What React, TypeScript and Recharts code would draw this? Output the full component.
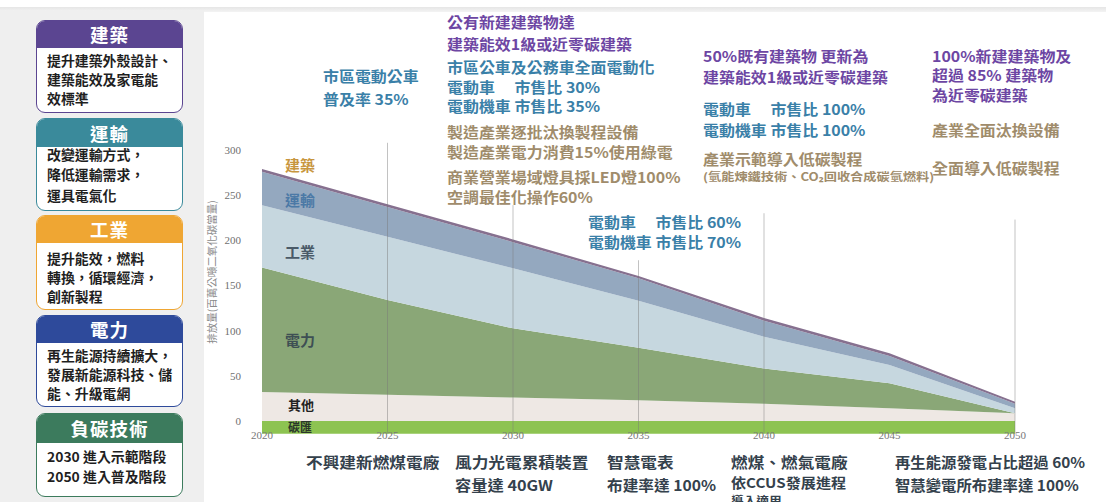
import React from 'react';
import { AreaChart, Area, XAxis, YAxis, ReferenceLine } from 'recharts';

// ---------- data ----------
const years = [2020, 2025, 2030, 2035, 2040, 2045, 2050];
const sinkValues = [-14, -14, -14, -14, -14, -14, -14];
const otherValues = [32, 29, 26, 23, 19, 14, 8.5];
const powerValues = [138, 105, 76.6, 58, 39, 27.7, 0];
const industryValues = [69, 70, 66.4, 52, 35.3, 20.3, 5.5];
const transportValues = [37, 33, 29, 25, 17.7, 10, 5];
const buildingValues = [3, 3, 3, 2.5, 3, 3, 2.4];
const yTicks = [0, 50, 100, 150, 200, 250, 300];
const gridYears = [2025, 2030, 2035, 2040, 2050];
const gridTops = [308, 239, 178, 230, 223];

const data = years.map((year, i) => ({
  year,
  碳匯: sinkValues[i],
  其他: otherValues[i],
  電力: powerValues[i],
  工業: industryValues[i],
  運輸: transportValues[i],
  建築: buildingValues[i],
}));

// ---------- text content ----------
const boxes = [
  { title: '建築', color: '#5b4591', top: 20, headerH: 27, bottom: 113, lines: ['提升建築外殼設計、', '建築能效及家電能', '效標準'], lineY: [62, 81, 100] },
  { title: '運輸', color: '#3a8a9b', top: 118, headerH: 28, bottom: 211, lines: ['改變運輸方式，', '降低運輸需求，', '運具電氣化'], lineY: [156, 176, 197] },
  { title: '工業', color: '#efa633', top: 215, headerH: 27, bottom: 310, lines: ['提升能效，燃料', '轉換，循環經濟，', '創新製程'], lineY: [260, 279, 298] },
  { title: '電力', color: '#2e4a9b', top: 315, headerH: 27, bottom: 407, lines: ['再生能源持續擴大，', '發展新能源科技、儲', '能、升級電網'], lineY: [357, 376, 395] },
  { title: '負碳技術', color: '#3c7b5d', top: 413, headerH: 29, bottom: 497, lines: ['2030 進入示範階段', '2050 進入普及階段'], lineY: [458, 478] },
];

const PURPLE = '#6d46a3';
const TEAL = '#3a80a8';
const TAN = '#a08c6b';
const DARK = '#34414c';

const topNotes = [
  { x: 323, y: 77, t: '市區電動公車', c: TEAL },
  { x: 323, y: 100, t: '普及率 35%', c: TEAL },
  { x: 447, y: 23, t: '公有新建建築物達', c: PURPLE },
  { x: 447, y: 45, t: '建築能效1級或近零碳建築', c: PURPLE },
  { x: 447, y: 68, t: '市區公車及公務車全面電動化', c: TEAL },
  { x: 447, y: 88, t: '電動車　 市售比 30%', c: TEAL },
  { x: 447, y: 107, t: '電動機車 市售比 35%', c: TEAL },
  { x: 447, y: 133, t: '製造產業逐批汰換製程設備', c: TAN },
  { x: 447, y: 153, t: '製造產業電力消費15%使用綠電', c: TAN },
  { x: 447, y: 178, t: '商業營業場域燈具採LED燈100%', c: TAN },
  { x: 447, y: 198, t: '空調最佳化操作60%', c: TAN },
  { x: 703, y: 57, t: '50%既有建築物 更新為', c: PURPLE },
  { x: 703, y: 78, t: '建築能效1級或近零碳建築', c: PURPLE },
  { x: 703, y: 110, t: '電動車　 市售比 100%', c: TEAL },
  { x: 703, y: 131, t: '電動機車 市售比 100%', c: TEAL },
  { x: 703, y: 160, t: '產業示範導入低碳製程', c: TAN },
  { x: 932, y: 57, t: '100%新建建築物及', c: PURPLE },
  { x: 932, y: 76, t: '超過 85% 建築物', c: PURPLE },
  { x: 932, y: 96, t: '為近零碳建築', c: PURPLE },
  { x: 932, y: 131, t: '產業全面汰換設備', c: TAN },
  { x: 932, y: 169, t: '全面導入低碳製程', c: TAN },
  { x: 588, y: 223, t: '電動車　 市售比 60%', c: TEAL },
  { x: 588, y: 243, t: '電動機車 市售比 70%', c: TEAL },
];

const bottomNotes = [
  { x: 306, y: 463, t: '不興建新燃煤電廠', sx: 1.15, s: 14.5 },
  { x: 455, y: 463, t: '風力光電累積裝置', sx: 1.15, s: 14.5 },
  { x: 455, y: 486, t: '容量達 40GW', sx: 1.12, s: 14.5 },
  { x: 607, y: 463, t: '智慧電表', sx: 1.15, s: 14.5 },
  { x: 607, y: 486, t: '布建率達 100%', sx: 1.08, s: 14.5 },
  { x: 731, y: 463, t: '燃煤、燃氣電廠', sx: 1.15, s: 14.5 },
  { x: 731, y: 484, t: '依CCUS發展進程', sx: 1.12, s: 13.5 },
  { x: 731, y: 501, t: '導入適用', sx: 1.15, s: 11 },
  { x: 895, y: 463, t: '再生能源發電占比超過 60%', sx: 1.06, s: 14.5 },
  { x: 895, y: 486, t: '智慧變電所布建率達 100%', sx: 1.06, s: 14.5 },
];

const layerLabels = [
  { x: 285, y: 165, t: '建築', c: '#c8963e', s: 15, w: 700 },
  { x: 285, y: 200, t: '運輸', c: '#4b79a6', s: 15, w: 700 },
  { x: 285, y: 252, t: '工業', c: '#4a5a68', s: 15, w: 700 },
  { x: 285, y: 340, t: '電力', c: '#3e4f54', s: 15, w: 700 },
  { x: 288, y: 405, t: '其他', c: '#222222', s: 13, w: 700 },
  { x: 288, y: 428, t: '碳匯', c: '#2a362a', s: 12, w: 700 },
];

const FONT = "'Noto Sans CJK TC', 'Noto Sans', sans-serif";
const SERIF = "'Liberation Serif', 'DejaVu Serif', serif";

function Txt({ x, y, t, c, s, w = 700, sx = 1 }: { x: number; y: number; t: string; c: string; s: number; w?: number; sx?: number }) {
  return (
    <div
      style={{
        position: 'absolute',
        left: x,
        top: y - 0.556 * s,
        fontSize: s,
        lineHeight: `${s}px`,
        color: c,
        fontWeight: w,
        fontFamily: FONT,
        whiteSpace: 'nowrap',
        transform: `scaleX(${sx})`,
        transformOrigin: 'left center',
      }}
    >
      {t}
    </div>
  );
}

function Box({ b }: { b: typeof boxes[number] }) {
  return (
    <>
      <div
        style={{
          position: 'absolute',
          left: 36,
          top: b.top,
          width: 147,
          height: b.bottom - b.top,
          boxSizing: 'border-box',
          border: `1.5px solid ${b.color}`,
          borderRadius: 9,
          background: '#ffffff',
          overflow: 'hidden',
        }}
      >
        <div
          style={{
            height: b.headerH,
            background: b.color,
            color: '#ffffff',
            fontFamily: FONT,
            fontWeight: 700,
            fontSize: 18.5,
            lineHeight: `${b.headerH}px`,
            textAlign: 'center',
            letterSpacing: 1,
          }}
        >
          {b.title}
        </div>
      </div>
      {b.lines.map((l, i) => (
        <Txt key={i} x={47} y={b.lineY[i]} t={l} c="#1f1f1f" s={13.5} sx={1.03} />
      ))}
    </>
  );
}

export default function App() {
  return (
    <div style={{ position: 'absolute', left: 0, top: 0, width: 1106, height: 502, overflow: 'hidden', background: '#ffffff' }}>
      <div style={{ position: 'absolute', left: 0, top: 7, width: 1106, height: 5, background: 'linear-gradient(#e6e6e6, #f3f3f3)' }} />
      <div style={{ position: 'absolute', left: 0, top: 11, width: 204, height: 491, background: '#efefef' }} />
      {boxes.map((b) => (
        <Box key={b.title} b={b} />
      ))}

      <div style={{ position: 'absolute', left: 0, top: 0 }}>
        <AreaChart width={1106} height={502} data={data} margin={{ top: 141, right: 91, bottom: 48.35, left: 222 }}>
          <XAxis
            dataKey="year"
            type="number"
            domain={[2020, 2050]}
            ticks={years}
            height={20}
            axisLine={false}
            tickLine={false}
            tickSize={0}
            tickMargin={-2}
            tick={{ fontSize: 11, fill: '#777777', fontFamily: SERIF }}
          />
          <YAxis
            type="number"
            domain={[-14, 310]}
            ticks={yTicks}
            width={40}
            axisLine={false}
            tickLine={false}
            tickSize={6}
            tickMargin={15}
            tick={{ fontSize: 11, fill: '#6f6f6f', fontFamily: SERIF }}
          />
          <Area type="linear" dataKey="碳匯" stackId="neg" stroke="none" fill="#8dc351" fillOpacity={1} isAnimationActive={false} />
          <Area type="linear" dataKey="其他" stackId="pos" stroke="none" fill="#eee8e4" fillOpacity={1} isAnimationActive={false} />
          <Area type="linear" dataKey="電力" stackId="pos" stroke="none" fill="#8aa777" fillOpacity={1} isAnimationActive={false} />
          <Area type="linear" dataKey="工業" stackId="pos" stroke="none" fill="#c6d7df" fillOpacity={1} isAnimationActive={false} />
          <Area type="linear" dataKey="運輸" stackId="pos" stroke="none" fill="#94a8bf" fillOpacity={1} isAnimationActive={false} />
          <Area type="linear" dataKey="建築" stackId="pos" stroke="none" fill="#86708f" fillOpacity={1} isAnimationActive={false} />
          {gridYears.map((yr, i) => (
            <ReferenceLine
              key={yr}
              segment={[
                { x: yr, y: -14 },
                { x: yr, y: gridTops[i] },
              ]}
              stroke="rgba(120,120,120,0.45)"
              strokeWidth={1}
            />
          ))}
        </AreaChart>
      </div>

      <div
        style={{
          position: 'absolute',
          left: 211,
          top: 272,
          transform: 'translate(-50%, -50%) rotate(-90deg)',
          fontSize: 10.5,
          color: '#8a8a8a',
          fontFamily: FONT,
          whiteSpace: 'nowrap',
        }}
      >
        排放量(百萬公噸二氧化碳當量)
      </div>

      {layerLabels.map((l, i) => (
        <Txt key={i} x={l.x} y={l.y} t={l.t} c={l.c} s={l.s} w={l.w} />
      ))}

      {topNotes.map((n, i) => (
        <Txt key={i} x={n.x} y={n.y} t={n.t} c={n.c} s={14.5} sx={1.1} />
      ))}
      <Txt x={703} y={177} t="(氫能煉鐵技術、CO₂回收合成碳氫燃料)" c={TAN} s={11} sx={1.2} />

      {bottomNotes.map((n, i) => (
        <Txt key={i} x={n.x} y={n.y} t={n.t} c={DARK} s={n.s} sx={n.sx} />
      ))}
    </div>
  );
}
